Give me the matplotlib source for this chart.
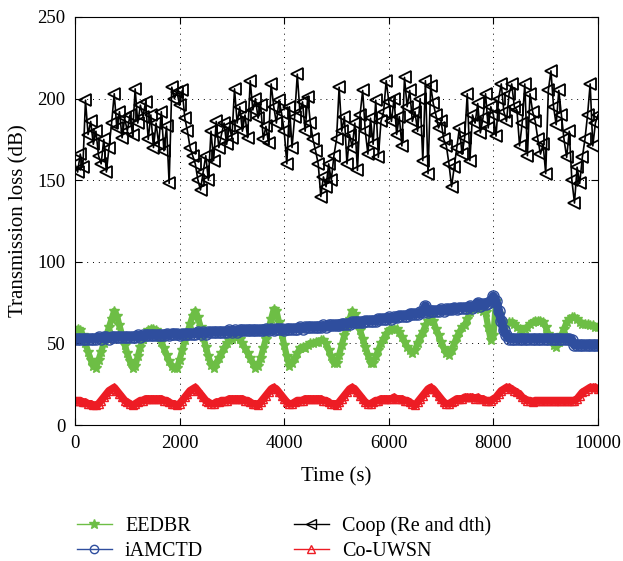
import numpy as np
import matplotlib
matplotlib.use('Agg')
import matplotlib.pyplot as plt
from matplotlib.lines import Line2D

plt.rcParams['font.family'] = ['Liberation Serif', 'DejaVu Serif']

# time samples (s), one every 50 s
time = np.arange(0, 10001, 50)

# transmission loss (dB)
eedbr = [
    58, 59, 58, 55, 50, 45, 40, 36, 35, 40,
    45, 50, 55, 60, 65, 70, 67, 61, 55, 49,
    44, 39, 35, 36, 42, 48, 53, 56, 58, 59,
    59, 58, 55, 51, 47, 43, 39, 36, 35, 35,
    40, 46, 52, 57, 62, 67, 70, 66, 60, 54,
    48, 42, 37, 35, 38, 41, 44, 47, 50, 52,
    53, 54, 54, 53, 50, 47, 44, 41, 38, 35,
    36, 41, 47, 53, 59, 65, 71, 70, 63, 56,
    49, 42, 36, 38, 41, 44, 47, 48, 47, 49,
    50, 50, 51, 51, 52, 52, 50, 46, 42, 38,
    38, 43, 49, 55, 60, 65, 70, 68, 63, 58,
    53, 48, 43, 38, 38, 42, 46, 50, 53, 56,
    58, 59, 59, 59, 57, 54, 51, 48, 46, 44,
    46, 50, 54, 57, 61, 64, 66, 64, 59, 55,
    51, 47, 44, 43, 46, 50, 54, 57, 60, 61,
    65, 69, 72, 73, 72, 71, 70, 69, 60, 52,
    55, 76, 68, 64, 63, 62, 63, 63, 62, 60,
    59, 58, 59, 60, 62, 63, 64, 64, 64, 63,
    60, 56, 52, 49, 48, 51, 55, 59, 63, 65,
    66, 66, 65, 63, 62, 62, 62, 61, 61, 60,
    60,
]

iamctd = [
    53, 53, 53, 53, 53, 53, 53, 53, 53, 54,
    53, 54, 54, 53, 54, 54, 54, 54, 54, 54,
    54, 54, 54, 54, 55, 54, 55, 55, 55, 55,
    55, 55, 55, 55, 55, 56, 55, 56, 56, 56,
    55, 56, 56, 56, 56, 56, 56, 57, 56, 57,
    56, 57, 57, 57, 57, 57, 57, 57, 57, 58,
    57, 58, 57, 58, 58, 58, 58, 58, 58, 58,
    58, 58, 58, 59, 58, 59, 58, 59, 59, 59,
    58, 59, 59, 59, 59, 59, 60, 59, 60, 60,
    60, 60, 60, 60, 60, 61, 60, 61, 61, 61,
    61, 61, 62, 62, 62, 62, 63, 63, 63, 63,
    63, 64, 64, 64, 64, 64, 65, 65, 65, 65,
    66, 65, 66, 66, 67, 67, 67, 67, 68, 68,
    68, 68, 69, 69, 73, 69, 70, 70, 70, 70,
    71, 70, 71, 71, 71, 72, 71, 72, 72, 72,
    72, 73, 72, 73, 75, 73, 74, 74, 75, 76,
    79, 76, 70, 64, 58, 55, 53, 53, 53, 53,
    53, 53, 53, 53, 53, 53, 53, 53, 53, 53,
    53, 53, 53, 53, 53, 53, 53, 53, 53, 53,
    52, 49, 49, 49, 49, 49, 49, 49, 49, 49,
    49,
]

coop = [
    160, 155, 166, 158, 199, 178, 186, 172, 180, 165,
    160, 175, 155, 170, 185, 203, 182, 192, 176, 188,
    180, 190, 178, 206, 185, 196, 189, 198, 175, 190,
    170, 185, 172, 192, 168, 183, 148, 207, 200, 204,
    196, 205, 188, 180, 170, 165, 160, 150, 144, 155,
    165, 150, 180, 162, 186, 170, 178, 185, 172, 183,
    176, 206, 185, 195, 180, 190, 176, 211, 193, 200,
    188, 196, 175, 183, 173, 209, 195, 185, 199, 191,
    180, 160, 195, 170, 189, 215, 192, 198, 180, 201,
    185, 175, 168, 160, 140, 152, 146, 160, 150, 165,
    175, 207, 180, 189, 160, 178, 170, 185, 156, 190,
    205, 180, 166, 188, 172, 199, 164, 186, 192, 211,
    198, 186, 200, 178, 189, 171, 213, 195, 205, 186,
    192, 180, 200, 162, 211, 154, 208, 197, 190, 182,
    186, 175, 171, 160, 146, 158, 170, 182, 166, 176,
    203, 162, 190, 185, 197, 179, 188, 203, 182, 195,
    190, 177, 200, 209, 192, 186, 203, 209, 195, 193,
    171, 185, 209, 165, 203, 192, 186, 175, 166, 172,
    154, 205, 217, 195, 184, 205, 190, 175, 164, 180,
    150, 136, 158, 148, 164, 175, 190, 209, 171, 185,
    190,
]

co_uwsn = [
    15, 15, 15, 14, 14, 13, 13, 12, 12, 13,
    15, 17, 19, 21, 22, 23, 21, 19, 17, 15,
    14, 13, 12, 13, 14, 15, 15, 16, 16, 16,
    16, 16, 16, 16, 15, 15, 14, 13, 13, 12,
    13, 15, 17, 19, 21, 22, 23, 21, 19, 17,
    15, 14, 13, 13, 14, 14, 15, 15, 15, 16,
    16, 16, 16, 16, 16, 15, 15, 14, 13, 13,
    12, 14, 16, 18, 20, 22, 23, 22, 20, 18,
    16, 14, 13, 13, 14, 15, 15, 15, 16, 16,
    16, 16, 16, 16, 16, 15, 15, 14, 13, 13,
    12, 14, 16, 18, 20, 22, 23, 22, 20, 18,
    16, 14, 13, 13, 14, 15, 15, 16, 16, 16,
    16, 16, 17, 16, 16, 16, 15, 15, 14, 13,
    12, 14, 16, 18, 20, 22, 23, 22, 20, 18,
    16, 14, 13, 13, 14, 15, 16, 16, 16, 17,
    17, 17, 17, 16, 17, 16, 16, 15, 15, 15,
    16, 17, 19, 21, 22, 23, 23, 22, 21, 20,
    19, 17, 16, 15, 15, 14, 15, 15, 15, 15,
    15, 15, 15, 15, 15, 15, 15, 15, 15, 15,
    15, 15, 16, 18, 20, 21, 22, 23, 23, 23,
    22,
]

green = '#6dbe45'
blue = '#2f4e9e'
red = '#ed1c24'

fig = plt.figure(figsize=(6.23, 5.61), dpi=100)
ax = fig.add_axes([0.1204, 0.2424, 0.8395, 0.7273])

# dense markers in the original make each curve look like a thick band
ax.plot(time, eedbr, color=green, marker='*', markersize=7,
        linewidth=4.5, solid_joinstyle='round')
ax.plot(time, iamctd, color=blue, marker='o', markersize=8,
        fillstyle='none', markeredgewidth=1.0, linewidth=6.5,
        solid_joinstyle='round')
ax.plot(time, coop, color='black', marker='<', markersize=9,
        fillstyle='none', markeredgewidth=1.3, linewidth=1.2)
ax.plot(time, co_uwsn, color=red, marker='^', markersize=6,
        fillstyle='none', markeredgewidth=1.0, linewidth=5.5,
        solid_joinstyle='round')

ax.set_xlim(0, 10000)
ax.set_ylim(0, 250)
ax.set_xticks([0, 2000, 4000, 6000, 8000, 10000])
ax.set_yticks([0, 50, 100, 150, 200, 250])
ax.grid(True, linestyle=(0, (1, 5)), color='black', linewidth=0.7)
ax.tick_params(direction='in', top=True, right=True, labelsize=13.5,
               length=5, pad=7)
ax.set_xlabel('Time (s)', fontsize=15, labelpad=11)
ax.set_ylabel('Transmission loss (dB)', fontsize=15, labelpad=6)

handles = [
    Line2D([], [], color=green, marker='*', markersize=7, linewidth=1),
    Line2D([], [], color=blue, marker='o', markersize=6, fillstyle='none',
           linewidth=1),
    Line2D([], [], color='black', marker='<', markersize=7, fillstyle='none',
           linewidth=1),
    Line2D([], [], color=red, marker='^', markersize=6, fillstyle='none',
           linewidth=1),
]
labels = ['EEDBR', 'iAMCTD', 'Coop (Re and dth)', 'Co-UWSN']
fig.legend(handles, labels, loc='upper left', ncol=2,
           bbox_to_anchor=(0.094, 0.112), frameon=False, fontsize=14.5,
           handlelength=1.75, columnspacing=4.5, labelspacing=0.3,
           handletextpad=0.65)

fig.savefig('out.png', dpi=100)
